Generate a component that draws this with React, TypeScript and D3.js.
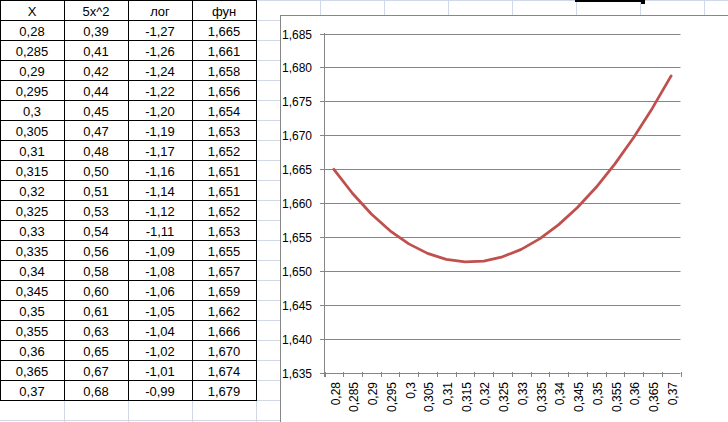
import React from "react";
import * as d3 from "d3";

const xValues = [0.28, 0.285, 0.29, 0.295, 0.3, 0.305, 0.31, 0.315, 0.32, 0.325, 0.33, 0.335, 0.34, 0.345, 0.35, 0.355, 0.36, 0.365, 0.37];
const sqValues = [0.39, 0.41, 0.42, 0.44, 0.45, 0.47, 0.48, 0.5, 0.51, 0.53, 0.54, 0.56, 0.58, 0.6, 0.61, 0.63, 0.65, 0.67, 0.68];
const logValues = [-1.27, -1.26, -1.24, -1.22, -1.2, -1.19, -1.17, -1.16, -1.14, -1.12, -1.11, -1.09, -1.08, -1.06, -1.05, -1.04, -1.02, -1.01, -0.99];
const funValues = [1.66497, 1.6614, 1.65837, 1.6559, 1.65397, 1.65257, 1.65168, 1.65131, 1.65143, 1.65206, 1.65316, 1.65475, 1.65681, 1.65934, 1.66232, 1.66577, 1.66965, 1.67399, 1.67875];
const headers = ["X", "5x^2", "лог", "фун"];
const yTicks = [1.635, 1.64, 1.645, 1.65, 1.655, 1.66, 1.665, 1.67, 1.675, 1.68, 1.685];

const comma = (s: string) => s.replace(".", ",");
const FONT = "'Liberation Sans', Arial, sans-serif";
const GRID = "#d0d7e5";
const AX = "#868686";

export default function App() {
  const W = 728, H = 422;
  const cats = xValues.map((v) => comma(String(v)));
  const x = d3.scaleBand<string>().domain(cats).range([324.5, 680.5]);
  const y = d3.scaleLinear().domain([1.635, 1.685]).range([372.5, 33.5]);
  const line = d3
    .line<number>()
    .x((_, i) => (x(cats[i]) as number) + x.bandwidth() / 2)
    .y((d) => y(d));

  const colW = 64, rowH = 20;
  const rows = xValues.map((v, i) => [
    comma(String(v)),
    comma(sqValues[i].toFixed(2)),
    comma(logValues[i].toFixed(2)),
    comma(funValues[i].toFixed(3)),
  ]);

  // Excel sheet grid
  const hLines = d3.range(0, 22).map((k) => k * rowH + 0.5);
  const vLines = d3.range(1, 12).map((k) => k * colW + 0.5);

  return (
    <svg width={W} height={H} style={{ position: "absolute", left: 0, top: 0, background: "#fff" }}>
      <rect x={0} y={0} width={W} height={H} fill="#fff" />
      {hLines.map((yy) => (
        <line key={"h" + yy} x1={0} x2={W} y1={yy} y2={yy} stroke={GRID} />
      ))}
      {vLines.map((xx) => (
        <line key={"v" + xx} x1={xx} x2={xx} y1={0} y2={H} stroke={GRID} />
      ))}

      {/* table */}
      <g fontFamily={FONT} fontSize={13} fill="#000">
        <rect x={0.5} y={0.5} width={colW * 4} height={rowH * 20} fill="#fff" stroke="none" />
        {headers.map((h, c) => (
          <text key={"hd" + c} x={c * colW + colW / 2} y={15.5} textAnchor="middle">
            {h}
          </text>
        ))}
        {rows.map((r, i) =>
          r.map((t, c) => (
            <text key={i + "-" + c} x={c * colW + colW / 2} y={(i + 1) * rowH + 15.5} textAnchor="middle">
              {t}
            </text>
          ))
        )}
        {d3.range(0, 21).map((k) => (
          <line key={"th" + k} x1={0} x2={colW * 4 + 1} y1={k * rowH + 0.5} y2={k * rowH + 0.5} stroke="#000" />
        ))}
        {d3.range(0, 5).map((k) => (
          <line key={"tv" + k} x1={k * colW + 0.5} x2={k * colW + 0.5} y1={0} y2={rowH * 20 + 1} stroke="#000" />
        ))}
      </g>

      {/* selection marker */}
      <rect x={575} y={0} width={68} height={2} fill="#000" />
      <rect x={641} y={0} width={4} height={4} fill="#000" />

      {/* chart area */}
      <rect x={280.5} y={15.5} width={W} height={H} fill="#fff" stroke={AX} />
      <g fontFamily={FONT} fontSize={12} fill="#000">
        {yTicks.map((t) => (
          <g key={"yt" + t}>
            <line x1={320} x2={680.5} y1={Math.round(y(t)) + 0.5} y2={Math.round(y(t)) + 0.5} stroke={AX} />
            <text x={312} y={Math.round(y(t)) + 0.5} dy="0.35em" textAnchor="end">
              {comma(t.toFixed(3))}
            </text>
          </g>
        ))}
        <line x1={324.5} x2={324.5} y1={33} y2={377} stroke={AX} />
        {d3.range(0, cats.length + 1).map((k) => {
          const xx = Math.round(324.5 + k * x.step()) + 0.5;
          return <line key={"xt" + k} x1={xx} x2={xx} y1={372} y2={377} stroke={AX} />;
        })}
        {cats.map((c) => {
          const cx = (x(c) as number) + x.bandwidth() / 2 + 1.5;
          return (
            <text key={"xl" + c} transform={`translate(${cx},382) rotate(-90)`} dy="0.35em" textAnchor="end">
              {c}
            </text>
          );
        })}
        <path d={line(funValues) || ""} fill="none" stroke="#c0504d" strokeWidth={2.75} strokeLinejoin="round" strokeLinecap="round" />
      </g>
    </svg>
  );
}
